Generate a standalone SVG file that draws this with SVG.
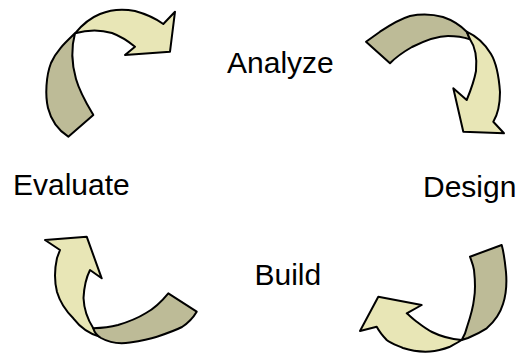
<svg xmlns="http://www.w3.org/2000/svg" width="522" height="356" viewBox="0 0 522 356">
  <style>
    .back { fill: #bdbb97; stroke: #000; stroke-width: 2; stroke-linejoin: round; }
    .front { fill: #e8e6b6; stroke: #000; stroke-width: 2; stroke-linejoin: round; }
    .label { font-family: "Liberation Sans", Arial, sans-serif; font-size: 30px; fill: #000; }
  </style>
  <rect width="522" height="356" fill="#fff"/>

  <g id="connectors">
    <!-- top-left: Evaluate to Analyze -->
    <g id="arrow-top-left">
      <path class="back" d="M75,33.3 C66,42 56,51 51,63 C46,76 45,95 48,108 C51,120 58,130 68.3,136.7 L93.3,115 C88,106 80,93 76,79 C72,65 71,48 75,33.3 Z"/>
      <path class="front" d="M75,33.3 C82,25 90,18 100,14 C112,9 125,9 135,11 C146,14 155,18 163.3,24 L175,11.7 L170,51.7 L125,55 L135,46.7 C128,41 120,36 112,33 C102,30 90,29 75,33.3 Z"/>
    </g>
    <!-- top-right: Analyze to Design -->
    <g id="arrow-top-right">
      <path class="back" d="M366,41.7 L390,63.3 C397,56 405,51 412,47 C424,41 436,36 448,36 C456,36 463,37 470,39.3 L466.7,31.7 C460,25 452,20 443,17 C432,14 420,14 410,16 C400,19 390,25 380,31.7 Z"/>
      <path class="front" d="M466.7,31.7 C476,36 485,44 491,54 C497,64 499,78 500,92 C500,104 498,114 493.3,121.7 L504,133.3 L463.3,131.7 L453.3,88.3 L466.7,100 C470,92 474,82 476,71 C477,60 476,48 470,39.3 Z"/>
    </g>
    <!-- bottom-left: Build to Evaluate -->
    <g id="arrow-bottom-left">
      <path class="front" d="M45,240 L86.7,236.7 L101.7,278.3 L90,270 C86,278 84,288 83.5,298 C84,310 88,320 93.3,328.3 L100,336.7 C90,334 80,327 73.3,318.3 C66,311 60,302 57,292 C54,280 55,267 57,258 L60,250 Z"/>
      <path class="back" d="M168.3,293.3 L196.7,311.7 C193,318 188,323 182,327 C174,331 165,334 157,336.7 C150,339 140,341 130,342.5 C120,344 110,343 101,338 C96,335 94,331 93.3,328.3 C100,328 110,327 118,325 C128,322 138,318 146,313 C155,308 162,301 168.3,293.3 Z"/>
    </g>
    <!-- bottom-right: Design to Build -->
    <g id="arrow-bottom-right">
      <path class="front" d="M461.7,340 C457,343 453,345 450,346.7 C444,349 438,351 430,351.5 C422,352 412,351 403,348 C396,345 390,343 386.7,340 C382,335 379,331 376.7,326.7 L360,331 L378.3,296.7 L421.7,305 L406.7,313.3 C410,316 413,319 416.7,321.7 C421,325 426,329 432,332 C440,336 450,339 461.7,340 Z"/>
      <path class="back" d="M470,256.7 L501.7,245 C504,253 505,262 506,272 C507,284 506,295 503,304 C500,314 494,322 486.7,328.3 C481,332 475,335 468,338 L461.7,340 C464,336 466,332 467,327 C470,318 473,309 474,299 C476,288 475,279 474,270 C473,264 471,260 470,256.7 Z"/>
    </g>
  </g>

  <g id="node-analyze"><text class="label" x="227" y="73">Analyze</text></g>
  <g id="node-design"><text class="label" x="423" y="197">Design</text></g>
  <g id="node-build"><text class="label" x="254.5" y="284.5">Build</text></g>
  <g id="node-evaluate"><text class="label" x="13" y="194.5">Evaluate</text></g>
</svg>
